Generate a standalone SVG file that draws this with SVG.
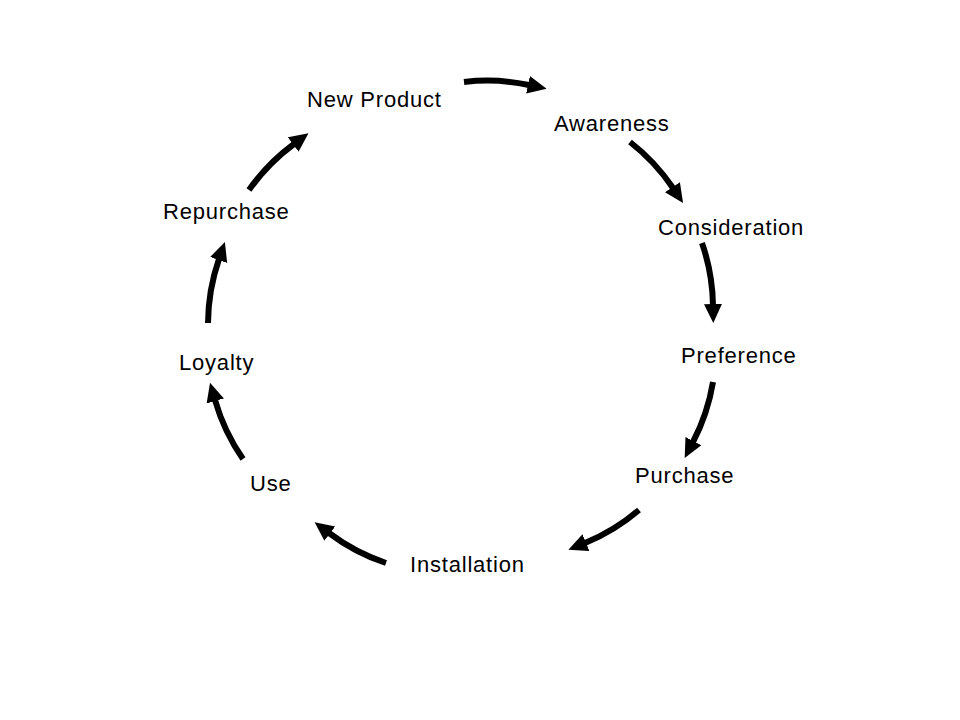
<svg xmlns="http://www.w3.org/2000/svg" width="960" height="720" viewBox="0 0 960 720">
<style>
.lbl{font-family:"Liberation Sans",Arial,sans-serif;font-size:22px;letter-spacing:0.8px;fill:#000}
.arr{fill:none;stroke:#000;stroke-width:6;marker-end:url(#ah)}
</style>
<defs>
<marker id="ah" markerWidth="22" markerHeight="22" refX="1" refY="9" orient="auto" markerUnits="userSpaceOnUse"><path d="M0,0 L19,9 L0,18 z" fill="#000"/></marker>
</defs>
<rect width="960" height="720" fill="#fff"/>
<g id="connectors">
<path class="arr" d="M464,82 A200,200 0 0 1 529,85"/>
<path class="arr" d="M630,142 A200,200 0 0 1 673,188"/>
<path class="arr" d="M702,243 A200,200 0 0 1 713,305"/>
<path class="arr" d="M713,382 A200,200 0 0 1 693,442"/>
<path class="arr" d="M639,510 A200,200 0 0 1 585,543"/>
<path class="arr" d="M386,563 A200,200 0 0 1 329,533"/>
<path class="arr" d="M243,459 A200,200 0 0 1 215,400"/>
<path class="arr" d="M208,323 A200,200 0 0 1 219,259"/>
<path class="arr" d="M249,190 A200,200 0 0 1 294,144"/>
</g>
<g id="new-product"><text class="lbl" x="307" y="107">New Product</text></g>
<g id="awareness"><text class="lbl" x="554" y="131">Awareness</text></g>
<g id="consideration"><text class="lbl" x="658" y="235">Consideration</text></g>
<g id="preference"><text class="lbl" x="681" y="363">Preference</text></g>
<g id="purchase"><text class="lbl" x="635" y="483">Purchase</text></g>
<g id="installation"><text class="lbl" x="410" y="572">Installation</text></g>
<g id="use"><text class="lbl" x="250" y="491">Use</text></g>
<g id="loyalty"><text class="lbl" x="179" y="370">Loyalty</text></g>
<g id="repurchase"><text class="lbl" x="163" y="219">Repurchase</text></g>
</svg>
